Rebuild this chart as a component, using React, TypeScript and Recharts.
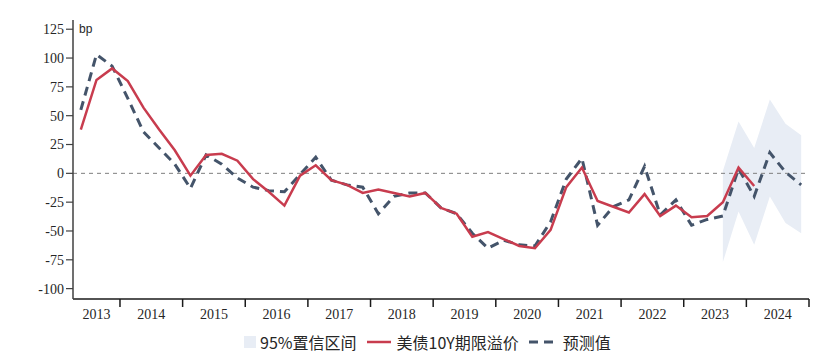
import React from 'react'
import { ComposedChart, Line, Area, XAxis, YAxis, ReferenceLine, Legend } from 'recharts'

// quarters 2013Q2 .. 2024Q4
const quarters: string[] = []
for (let y = 2013; y <= 2024; y++) {
  for (let q = 1; q <= 4; q++) {
    if (y === 2013 && q === 1) continue
    quarters.push(`${y}Q${q}`)
  }
}

const years = ['2013', '2014', '2015', '2016', '2017', '2018', '2019', '2020', '2021', '2022', '2023', '2024']

// 美债10Y期限溢价 (bp)
const termPremium: (number | null)[] = [
  38, 81, 91,
  80, 57, 38, 20,
  -2, 16, 17, 11,
  -5, -16, -28, -2,
  7, -6, -10, -17,
  -14, -17, -20, -17,
  -30, -35, -55, -51,
  -57, -63, -65, -49,
  -12, 5, -24, -29,
  -34, -18, -37, -28,
  -38, -37, -25, 5,
  -11, null, null, null,
]

// 预测值 (bp)
const forecast: number[] = [
  55, 103, 93,
  65, 36, 22, 8,
  -13, 16, 8, -4,
  -12, -15, -16, -1,
  14, -6, -10, -12,
  -35, -20, -17, -17,
  -30, -35, -52, -65,
  -58, -62, -63, -42,
  -5, 13, -45, -29,
  -23, 6, -36, -23,
  -45, -40, -37, 4,
  -20, 18, 1, -10,
]

// 95%置信区间, from 2023Q3 onward
const bandStart = 41
const bandLow: number[] = [-77, -33, -62, -20, -43, -52]
const bandHigh: number[] = [2, 45, 22, 64, 43, 33]

const yTicks = [-100, -75, -50, -25, 0, 25, 50, 75, 100, 125]

const data = quarters.map((q, i) => {
  const b = i - bandStart
  return {
    idx: i,
    quarter: q,
    premium: termPremium[i],
    forecast: forecast[i],
    band: b >= 0 && b < bandLow.length ? [bandLow[b], bandHigh[b]] : null,
  }
})

// year boundaries sit between quarters
const boundaries = years.map((_, k) => 2.5 + 4 * k)

const CHART_W = 826
const CHART_H = 355
const MARGIN = { top: 20, right: 17, left: 13, bottom: 0 }
const Y_AXIS_W = 60
const PLOT_W = CHART_W - MARGIN.left - MARGIN.right - Y_AXIS_W
const PX_PER_Q = PLOT_W / quarters.length

const RED = '#c83c4e'
const NAVY = '#44546a'
const BAND = '#e8edf5'
const AXIS = '#404040'
const NUM_FONT = '"Liberation Serif", "Times New Roman", serif'
const CJK_FONT = '"Noto Sans CJK SC", "Noto Sans", sans-serif'

const YearTick = (props: any) => {
  const { x, y, payload } = props
  const b = payload.value as number
  const k = Math.round((b - 2.5) / 4)
  const half = (k === 0 ? 1.5 : 2) * PX_PER_Q
  return (
    <text x={x - half} y={y} dy="0.71em" textAnchor="middle" fill="#262626" fontSize={14} fontFamily={NUM_FONT}>
      {years[k]}
    </text>
  )
}

const renderLegend = () => (
  <div style={{ display: 'flex', alignItems: 'center', height: 26, fontFamily: CJK_FONT, fontSize: 16, color: '#262626', whiteSpace: 'nowrap' }}>
    <span style={{ display: 'inline-block', width: 12, height: 12, background: BAND, marginRight: 4 }} />
    <span>95%置信区间</span>
    <svg width={30} height={10} style={{ marginLeft: 8, marginRight: 2 }}>
      <line x1={2} y1={5} x2={26} y2={5} stroke={RED} strokeWidth={2.5} />
    </svg>
    <span>美债10Y期限溢价</span>
    <svg width={34} height={10} style={{ marginLeft: 8, marginRight: 2 }}>
      <line x1={2} y1={5} x2={32} y2={5} stroke={NAVY} strokeWidth={3} strokeDasharray="9 6" />
    </svg>
    <span>预测值</span>
  </div>
)

export default function App() {
  return (
    <div style={{ position: 'absolute', left: 0, top: 0, background: '#fff' }}>
      <ComposedChart width={CHART_W} height={CHART_H} data={data} margin={MARGIN}>
        <XAxis
          dataKey="idx"
          type="number"
          domain={[-0.5, quarters.length - 0.5]}
          allowDataOverflow
          ticks={boundaries}
          interval={0}
          height={30}
          tickSize={8}
          tick={<YearTick />}
          axisLine={{ stroke: '#1a1a1a', strokeWidth: 1.5 }}
          tickLine={{ stroke: '#1a1a1a', strokeWidth: 1.5 }}
        />
        <YAxis
          type="number"
          domain={[-109, 133]}
          allowDataOverflow
          ticks={yTicks}
          interval={0}
          width={Y_AXIS_W}
          tickSize={7}
          axisLine={{ stroke: AXIS, strokeWidth: 1.5 }}
          tickLine={{ stroke: AXIS, strokeWidth: 1.2 }}
          tick={{ fill: '#262626', fontSize: 14, fontFamily: NUM_FONT }}
          label={{
            content: (p: any) => (
              <text x={p.viewBox.x + p.viewBox.width + 6} y={p.viewBox.y + 13} fontSize={12} fontFamily='"Liberation Sans", Arial, sans-serif' fill="#262626">
                bp
              </text>
            ),
          }}
        />
        <Legend verticalAlign="bottom" height={26} content={renderLegend} wrapperStyle={{ left: 244, width: 'auto' }} />
        <Area
          dataKey="band"
          stroke="none"
          fill={BAND}
          fillOpacity={1}
          isAnimationActive={false}
          dot={false}
          activeDot={false}
          legendType="none"
        />
        <ReferenceLine y={0} stroke="#7f7f7f" strokeDasharray="4 4" strokeWidth={1} />
        <Line
          dataKey="forecast"
          stroke={NAVY}
          strokeWidth={3}
          strokeDasharray="9 6"
          dot={false}
          activeDot={false}
          isAnimationActive={false}
        />
        <Line
          dataKey="premium"
          stroke={RED}
          strokeWidth={2.5}
          dot={false}
          activeDot={false}
          connectNulls={false}
          isAnimationActive={false}
        />
      </ComposedChart>
    </div>
  )
}
